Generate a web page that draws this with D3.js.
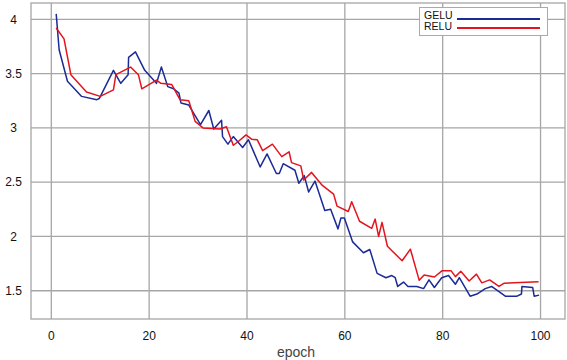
<!DOCTYPE html>
<html>
<head>
<meta charset="utf-8">
<script src="https://cdn.jsdelivr.net/npm/d3@7"></script>
<style>
  body { margin: 0; background: #fff; }
  svg { display: block; font-family: "Liberation Sans", Arial, sans-serif; }
</style>
</head>
<body>
<svg width="567" height="360"></svg>
<script>
// values (epoch, loss)
const geluEpochs = [1, 1.6, 3.3, 6.2, 9.3, 9.8, 12.7, 14.2, 15.7, 15.8, 17.2, 19.1, 21.5, 22.5, 23.8, 25, 26.1, 26.5, 28.1, 30.5,
  32.2, 33.2, 34.8, 35, 36.1, 37.2, 39.1, 40.3, 42.7, 44.1, 46, 46.6, 47.4, 49.8, 50.6, 51.7, 52.6, 53.9, 55.9, 57.1,
  58.6, 59.2, 59.9, 61.6, 63.8, 65.1, 66.6, 68.4, 69.6, 70.3, 70.8, 72, 72.9, 74.7, 76.1, 77.2, 78.3, 79.8, 81.2, 82.6,
  83.4, 85.6, 87, 88.7, 90, 92.8, 95.2, 96.1, 96.2, 98.4, 98.7, 99.7];
const geluLoss = [4.05, 3.72, 3.43, 3.29, 3.26, 3.27, 3.53, 3.41, 3.49, 3.65, 3.70, 3.53, 3.41, 3.56, 3.38, 3.36, 3.32, 3.23, 3.21, 3.03,
  3.16, 2.99, 3.07, 2.92, 2.85, 2.92, 2.82, 2.89, 2.64, 2.76, 2.58, 2.58, 2.67, 2.61, 2.49, 2.56, 2.41, 2.51, 2.24, 2.25,
  2.07, 2.17, 2.17, 1.95, 1.85, 1.88, 1.66, 1.62, 1.64, 1.62, 1.54, 1.58, 1.54, 1.54, 1.52, 1.60, 1.53, 1.62, 1.64, 1.56,
  1.62, 1.45, 1.47, 1.52, 1.54, 1.45, 1.45, 1.47, 1.54, 1.53, 1.45, 1.46];

const reluEpochs = [1, 2.6, 4, 7.2, 10, 12.7, 13.2, 16.2, 17.8, 18.5, 21.5, 22.4, 24.6, 26.3, 28.1, 29.4, 31, 34.5, 35.8, 37.2,
  38.1, 39.8, 41, 42.1, 43.2, 45.2, 47.1, 48.6, 49.1, 51, 51.6, 53.2, 55.4, 57.7, 58.4, 60.7, 61.4, 63, 65.5, 66.2,
  66.9, 67.6, 68.7, 71.7, 73.4, 75.2, 76.2, 78.3, 79.9, 81.7, 82.6, 83.7, 85.4, 86.9, 88, 89.6, 91.5, 92.5, 99.6];
const reluLoss = [3.92, 3.82, 3.49, 3.33, 3.29, 3.35, 3.49, 3.56, 3.49, 3.36, 3.44, 3.41, 3.40, 3.26, 3.25, 3.06, 3.00, 2.99, 3.01, 2.84,
  2.87, 2.935, 2.895, 2.89, 2.79, 2.85, 2.735, 2.78, 2.68, 2.65, 2.52, 2.59, 2.47, 2.39, 2.28, 2.23, 2.32, 2.14, 2.075, 2.16,
  2.0, 2.13, 1.91, 1.776, 1.883, 1.596, 1.645, 1.627, 1.685, 1.685, 1.63, 1.68, 1.59, 1.653, 1.573, 1.60, 1.54, 1.569, 1.584];

const xTicks = [0, 20, 40, 60, 80, 100];
const yTicks = [1.5, 2, 2.5, 3, 3.5, 4];
const seriesNames = ["GELU", "RELU"];
const seriesColors = ["#1a2b96", "#e3141e"];

const svg = d3.select("svg");
const plotL = 31, plotR = 565, plotT = 3, plotB = 319;

const x = d3.scaleLinear().domain([-4.15, 105]).range([plotL, plotR]);
const y = d3.scaleLinear().domain([1.24, 4.15]).range([plotB, plotT]);

// grid
svg.append("g").selectAll("line").data(xTicks).join("line")
  .attr("x1", d => x(d)).attr("x2", d => x(d))
  .attr("y1", plotT).attr("y2", plotB)
  .attr("stroke", "#a6a6a6").attr("stroke-width", 1.3);
svg.append("g").selectAll("line").data(yTicks).join("line")
  .attr("x1", plotL).attr("x2", plotR)
  .attr("y1", d => y(d)).attr("y2", d => y(d))
  .attr("stroke", "#a6a6a6").attr("stroke-width", 1.3);

// frame
svg.append("rect")
  .attr("x", plotL).attr("y", plotT)
  .attr("width", plotR - plotL).attr("height", plotB - plotT)
  .attr("fill", "none").attr("stroke", "#a6a6a6").attr("stroke-width", 1.3);

// tick labels
svg.append("g").selectAll("text").data(yTicks).join("text")
  .attr("x", 13.5).attr("y", d => y(d) + 4.3)
  .attr("text-anchor", "middle").attr("font-size", 12).attr("fill", "#111")
  .text(d => d);
svg.append("g").selectAll("text").data(xTicks).join("text")
  .attr("x", d => x(d)).attr("y", 340)
  .attr("text-anchor", "middle").attr("font-size", 12).attr("fill", "#111")
  .text(d => d);

svg.append("text")
  .attr("x", 296).attr("y", 356.5)
  .attr("text-anchor", "middle").attr("font-size", 14).attr("fill", "#444")
  .text("epoch");

// lines
const line = d3.line().x(d => x(d[0])).y(d => y(d[1]));
const series = [
  d3.zip(geluEpochs, geluLoss),
  d3.zip(reluEpochs, reluLoss)
];
svg.append("g").selectAll("path").data(series).join("path")
  .attr("d", line)
  .attr("fill", "none")
  .attr("stroke", (d, i) => seriesColors[i])
  .attr("stroke-width", 1.5)
  .attr("stroke-linejoin", "round");

// legend
const legend = svg.append("g");
legend.append("rect")
  .attr("x", 419.5).attr("y", 7.5).attr("width", 128).attr("height", 28)
  .attr("fill", "#fff").attr("stroke", "#aaa");
seriesNames.forEach((name, i) => {
  legend.append("text")
    .attr("x", 424).attr("y", 19 + i * 11)
    .attr("font-size", 10.5).attr("fill", "#111")
    .text(name);
  legend.append("line")
    .attr("x1", 457).attr("x2", 540)
    .attr("y1", 19 + i * 9).attr("y2", 19 + i * 9)
    .attr("stroke", seriesColors[i]).attr("stroke-width", 2.2);
});
</script>
</body>
</html>
